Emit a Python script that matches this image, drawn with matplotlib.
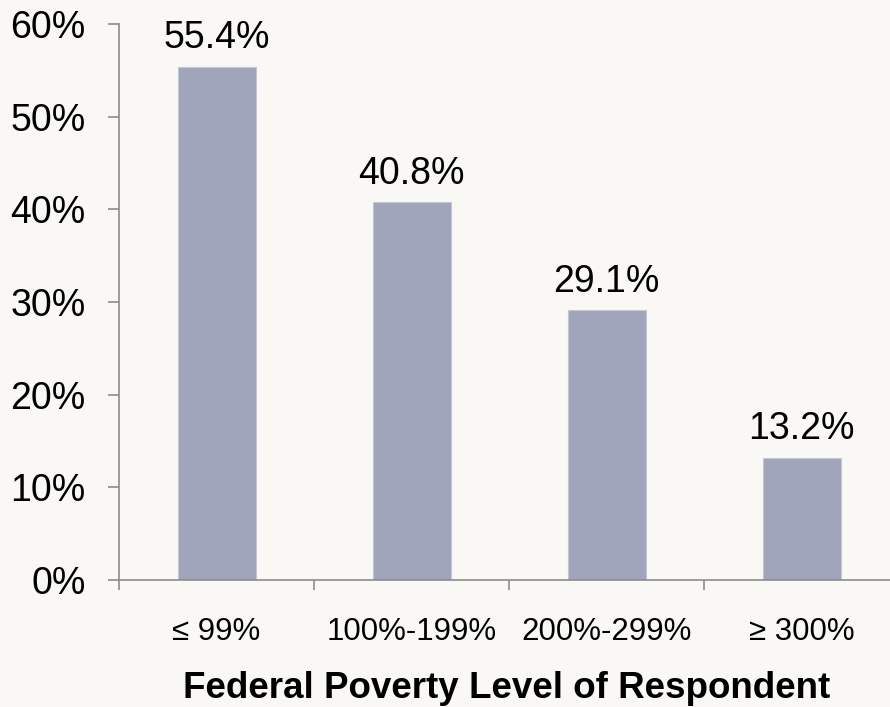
import matplotlib
matplotlib.use("Agg")
import matplotlib.pyplot as plt
from matplotlib.ticker import FuncFormatter, FixedLocator

categories = ["≤ 99%", "100%-199%", "200%-299%", "≥ 300%"]
values = [55.4, 40.8, 29.1, 13.2]
value_labels = ["55.4%", "40.8%", "29.1%", "13.2%"]
yticks = [0, 10, 20, 30, 40, 50, 60]
xlabel = "Federal Poverty Level of Respondent"

plt.rcParams['font.family'] = ['Liberation Sans', 'DejaVu Sans']
bg = "#f9f8f4"
axis_col = "#8c8c8c"

fig = plt.figure(figsize=(8.9, 7.07), dpi=100, facecolor=bg)
W, H = 890, 707
left, right_px, top, bottom = 119, 890, 24, 580
ax = fig.add_axes([left / W, 1 - bottom / H, (right_px - left) / W, (bottom - top) / H])
ax.set_facecolor(bg)

x = list(range(len(categories)))
ax.bar(x, values, width=0.4, color="#a0a5bb", edgecolor="#c3c6d4", linewidth=0.8, zorder=2)

for xi, v, lab in zip(x, values, value_labels):
    ax.annotate(lab, (xi, v), xytext=(0, 7.5), textcoords="offset points",
                ha="center", va="bottom", fontsize=27, color="black")

# category width 195 px -> axis would end at 899; clip at figure edge
ax.set_xlim(-0.5, -0.5 + (right_px - left) / 195.0)
ax.set_ylim(0, 60)
ax.set_yticks(yticks)
ax.yaxis.set_major_formatter(FuncFormatter(lambda v, p: f"{int(v)}%"))
ax.tick_params(axis='y', direction='out', length=8, width=1.2, color=axis_col,
               labelsize=27, pad=16)

ax.xaxis.set_major_locator(FixedLocator([i - 0.5 for i in range(len(categories) + 1)]))
ax.xaxis.set_minor_locator(FixedLocator(x))
ax.set_xticklabels([""] * (len(categories) + 1))
ax.set_xticklabels(categories, minor=True)
ax.tick_params(axis='x', which='major', direction='out', length=7, width=1.2, color=axis_col)
ax.tick_params(axis='x', which='minor', length=0, labelsize=22.5, pad=27)

for s in ["top", "right"]:
    ax.spines[s].set_visible(False)
for s in ["left", "bottom"]:
    ax.spines[s].set_color(axis_col)
    ax.spines[s].set_linewidth(1.2)

fig.text(507 / W, 1 - 689 / H, xlabel, ha="center", va="center",
         fontsize=26.5, fontweight="bold")

fig.savefig("out.png", dpi=100, facecolor=bg)
